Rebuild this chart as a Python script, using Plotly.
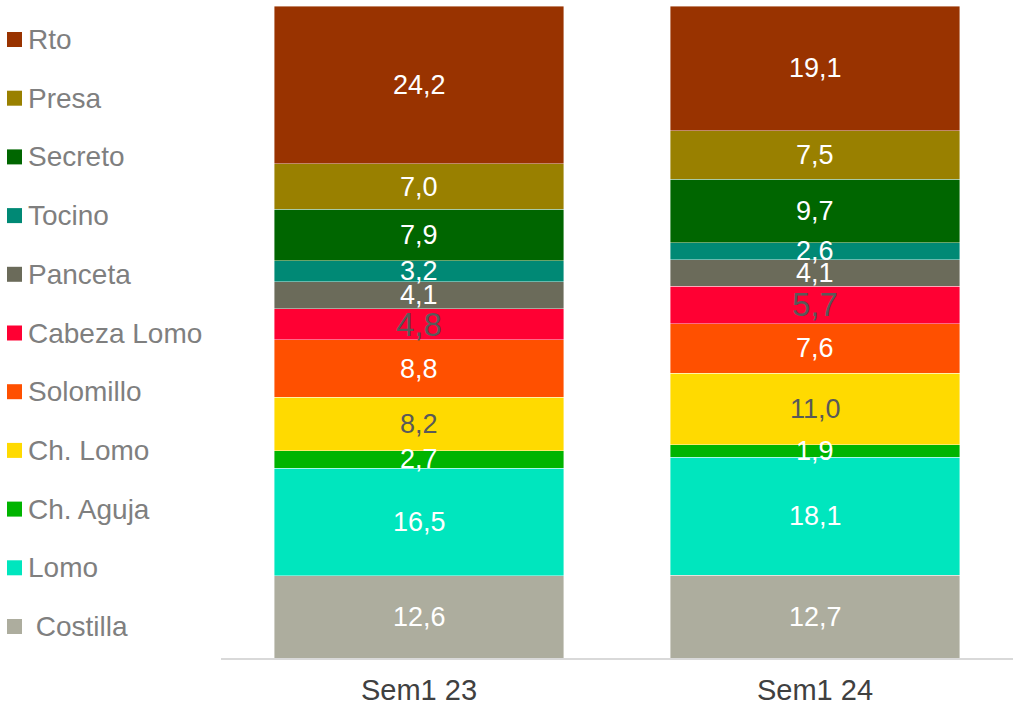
import plotly.graph_objects as go

categories = ["Sem1 23", "Sem1 24"]

# bottom to top stacking order
series_names = ["Costilla", "Lomo", "Ch. Aguja", "Ch. Lomo", "Solomillo",
                "Cabeza Lomo", "Panceta", "Tocino", "Secreto", "Presa", "Rto"]
legend_labels = ["\u00a0Costilla", "Lomo", "Ch. Aguja", "Ch. Lomo", "Solomillo",
                 "Cabeza Lomo", "Panceta", "Tocino", "Secreto", "Presa", "Rto"]
sem1_23 = [12.6, 16.5, 2.7, 8.2, 8.8, 4.8, 4.1, 3.2, 7.9, 7.0, 24.2]
sem1_24 = [12.7, 18.1, 1.9, 11.0, 7.6, 5.7, 4.1, 2.6, 9.7, 7.5, 19.1]

colors = ["#ADAD9E", "#00E6BE", "#00B400", "#FFDA00", "#FF5000",
          "#FF0033", "#6B6B5A", "#008975", "#006600", "#998000", "#993300"]
label_colors = ["#FFFFFF", "#FFFFFF", "#FFFFFF", "#595959", "#FFFFFF",
                "#595959", "#FFFFFF", "#FFFFFF", "#FFFFFF", "#FFFFFF", "#FFFFFF"]
label_sizes = [27, 27, 27, 27, 27, 33, 27, 27, 27, 27, 27]

FONT = "Liberation Sans, Arial, sans-serif"

W, H = 1015, 707
ML, MR, MT, MB = 221, 2, 6, 49
PW, PH = W - ML - MR, H - MT - MB

fig = go.Figure()
values_by_cat = [sem1_23, sem1_24]
for i, name in enumerate(series_names):
    vals = [sem1_23[i], sem1_24[i]]
    fig.add_trace(go.Bar(
        x=categories, y=vals, name=name,
        marker=dict(color=colors[i], line=dict(color="rgba(255,255,255,0.55)", width=0.75)),
        hoverinfo="x+y+name", showlegend=False,
    ))

annotations = []
for j, cat in enumerate(categories):
    cum = 0.0
    for i, v in enumerate(values_by_cat[j]):
        annotations.append(dict(
            x=cat, y=cum + v / 2, xref="x", yref="y",
            text=f"{v:.1f}".replace(".", ","), showarrow=False,
            font=dict(family=FONT, size=label_sizes[i], color=label_colors[i]),
            xanchor="center", yanchor="middle",
        ))
        cum += v

# legend (Rto at top, Costilla at bottom), drawn in the left margin
shapes = []
first_y_px = 39.5
step_px = 58.7
n = len(series_names)
for k in range(n):
    i = n - 1 - k
    yc = first_y_px + k * step_px
    ypap = (H - MB - yc) / PH
    half = 7.5 / PH
    shapes.append(dict(
        type="rect", xref="paper", yref="paper",
        x0=(7 - ML) / PW, x1=(22 - ML) / PW, y0=ypap - half, y1=ypap + half,
        fillcolor=colors[i], line=dict(width=0), layer="above",
    ))
    annotations.append(dict(
        x=(26 - ML) / PW, y=ypap, xref="paper", yref="paper",
        text=legend_labels[i], showarrow=False, xanchor="left", yanchor="middle",
        font=dict(family=FONT, size=28, color="#7F7F7F"),
    ))

fig.update_layout(
    barmode="stack",
    bargap=0.27,
    width=W, height=H,
    margin=dict(l=ML, r=MR, t=MT, b=MB, autoexpand=False),
    paper_bgcolor="white", plot_bgcolor="white",
    font=dict(family=FONT),
    annotations=annotations,
    shapes=shapes,
    showlegend=False,
    xaxis=dict(
        showline=True, linecolor="#D9D9D9", linewidth=1.5,
        ticks="", showgrid=False, ticklabelstandoff=5, automargin=False,
        tickfont=dict(family=FONT, size=29, color="#404040"),
    ),
    yaxis=dict(visible=False, range=[0, 100], showgrid=False, automargin=False),
)

fig.write_html("out.html")
